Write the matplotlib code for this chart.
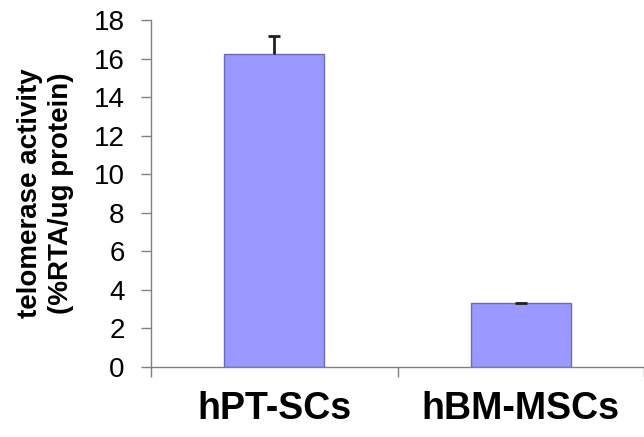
import matplotlib
matplotlib.use("Agg")
import matplotlib.pyplot as plt

categories = ["hPT-SCs", "hBM-MSCs"]
values = [16.22, 3.30]
errors = [0.95, 0.03]
yticks = [0, 2, 4, 6, 8, 10, 12, 14, 16, 18]

plt.rcParams['font.family'] = ['Liberation Sans', 'DejaVu Sans']

fig = plt.figure(figsize=(6.44, 4.37), dpi=100)
ax = fig.add_axes([151/644, 70/437, 1 - 151/644, 347/437])

x = list(range(len(categories)))
ax.bar(x, values, width=0.404, color='#9999ff', edgecolor='#6a6ab8', linewidth=1.0, zorder=2)
eb = ax.errorbar(x, values, yerr=[[0]*len(errors), errors], fmt='none', ecolor='#202020',
                 elinewidth=2.0, capsize=4, capthick=2.0, zorder=3)
eb[1][0].set_visible(False)

ax.set_xlim(-0.5, 1.472)
ax.set_ylim(0, 18)
ax.set_yticks(yticks)
ax.set_yticklabels([str(t) for t in yticks], fontsize=20)

ax.set_xticks([-0.5, 0.5, 1.5])
ax.set_xticklabels([])
ax.set_xticks(x, minor=True)
ax.set_xticklabels(categories, minor=True, fontsize=27, fontweight='bold')
ax.tick_params(axis='x', which='minor', length=0, pad=17)
ax.tick_params(axis='x', which='major', length=7, width=1, color='#808080', direction='out')
ax.tick_params(axis='y', length=7, width=1, color='#808080', direction='out', pad=12)

for s in ['top', 'right']:
    ax.spines[s].set_visible(False)
for s in ['left', 'bottom']:
    ax.spines[s].set_color('#808080')
    ax.spines[s].set_linewidth(1)

ax.set_ylabel("telomerase activity\n(%RTA/ug protein)", fontsize=20, fontweight='bold',
              linespacing=1.25)
ax.yaxis.set_label_coords(-0.156, 0.5)

fig.savefig("out.png", dpi=100)
